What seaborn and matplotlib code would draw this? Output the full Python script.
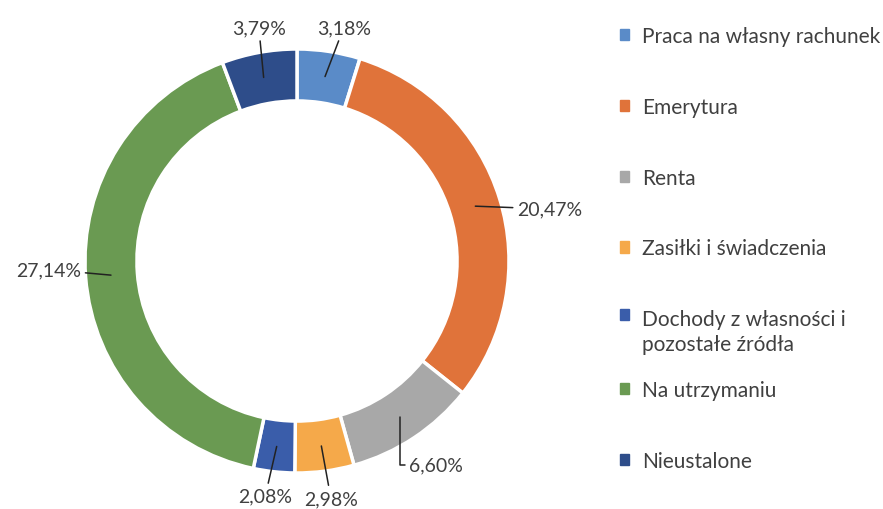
import numpy as np
import matplotlib
matplotlib.use("Agg")
import matplotlib.pyplot as plt
import seaborn as sns

# Data
categories = [
    "Praca na własny rachunek",
    "Emerytura",
    "Renta",
    "Zasiłki i świadczenia",
    "Dochody z własności i\npozostałe źródła",
    "Na utrzymaniu",
    "Nieustalone",
]
shares = [3.18, 20.47, 6.60, 2.98, 2.08, 27.14, 3.79]
colors = ["#5A8BC8", "#E0733A", "#A8A8A8", "#F5A94A", "#3A5DAA", "#6A9A52", "#2E4D8A"]

# label placement (x, y in pie units, horizontal alignment, elbow line)
label_pos = [
    (0.22, 1.10, "center", False),
    (1.04, 0.245, "left", False),
    (0.53, -0.96, "left", True),
    (0.16, -1.12, "center", False),
    (-0.15, -1.11, "center", False),
    (-1.02, -0.04, "right", False),
    (-0.18, 1.10, "center", False),
]

sns.set_theme(style="white")
plt.rcParams["font.family"] = ["Lato", "DejaVu Sans"]

fig = plt.figure(figsize=(8.83, 5.10), dpi=100)
cx, cy, R = 297, 262, 212
ax = fig.add_axes([(cx - R) / 883, (510 - cy - R) / 510, 2 * R / 883, 2 * R / 510])

wedges, _ = ax.pie(
    shares, colors=colors, startangle=90, counterclock=False, radius=1.0,
    wedgeprops=dict(width=0.245, edgecolor="white", linewidth=2.5),
)
ax.set_xlim(-1, 1)
ax.set_ylim(-1, 1)
ax.set_aspect("equal")
ax.set_axis_off()

for w, v, (tx, ty, ha, elbow) in zip(wedges, shares, label_pos):
    mid = np.deg2rad((w.theta1 + w.theta2) / 2)
    px, py = 0.88 * np.cos(mid), 0.88 * np.sin(mid)
    txt = f"{v:.2f}".replace(".", ",") + "%"
    if elbow:
        conn = "angle,angleA=0,angleB=90,rad=0"
    else:
        conn = "arc3"
    ax.annotate(
        txt, xy=(px, py), xytext=(tx, ty), ha=ha, va="center",
        fontsize=14, color="#404040", annotation_clip=False,
        arrowprops=dict(arrowstyle="-", color="#222222", lw=1.1,
                        connectionstyle=conn, shrinkA=1, shrinkB=0),
    )

# legend entries: tops on an even pitch, like the Excel original
top_y, pitch = 27, 70.8
for i, (cat, c) in enumerate(zip(categories, colors)):
    h = [plt.Rectangle((0, 0), 1, 1, color=c)]
    yt = top_y + i * pitch
    leg = fig.legend(
        h, [cat], loc="upper left", bbox_to_anchor=(620 / 883, 1 - yt / 510),
        frameon=False, fontsize=15, labelcolor="#404040",
        handlelength=0.45, handleheight=0.45, handletextpad=0.6,
        borderaxespad=0, borderpad=0,
    )
    for t in leg.get_texts():
        t.set_linespacing(1.3)
    if "\n" in cat:
        # square sits next to the first line of the two-line entry
        item = leg._legend_handle_box.get_children()[0].get_children()[0]
        item.align = "top"

fig.savefig("out.png", dpi=100)
